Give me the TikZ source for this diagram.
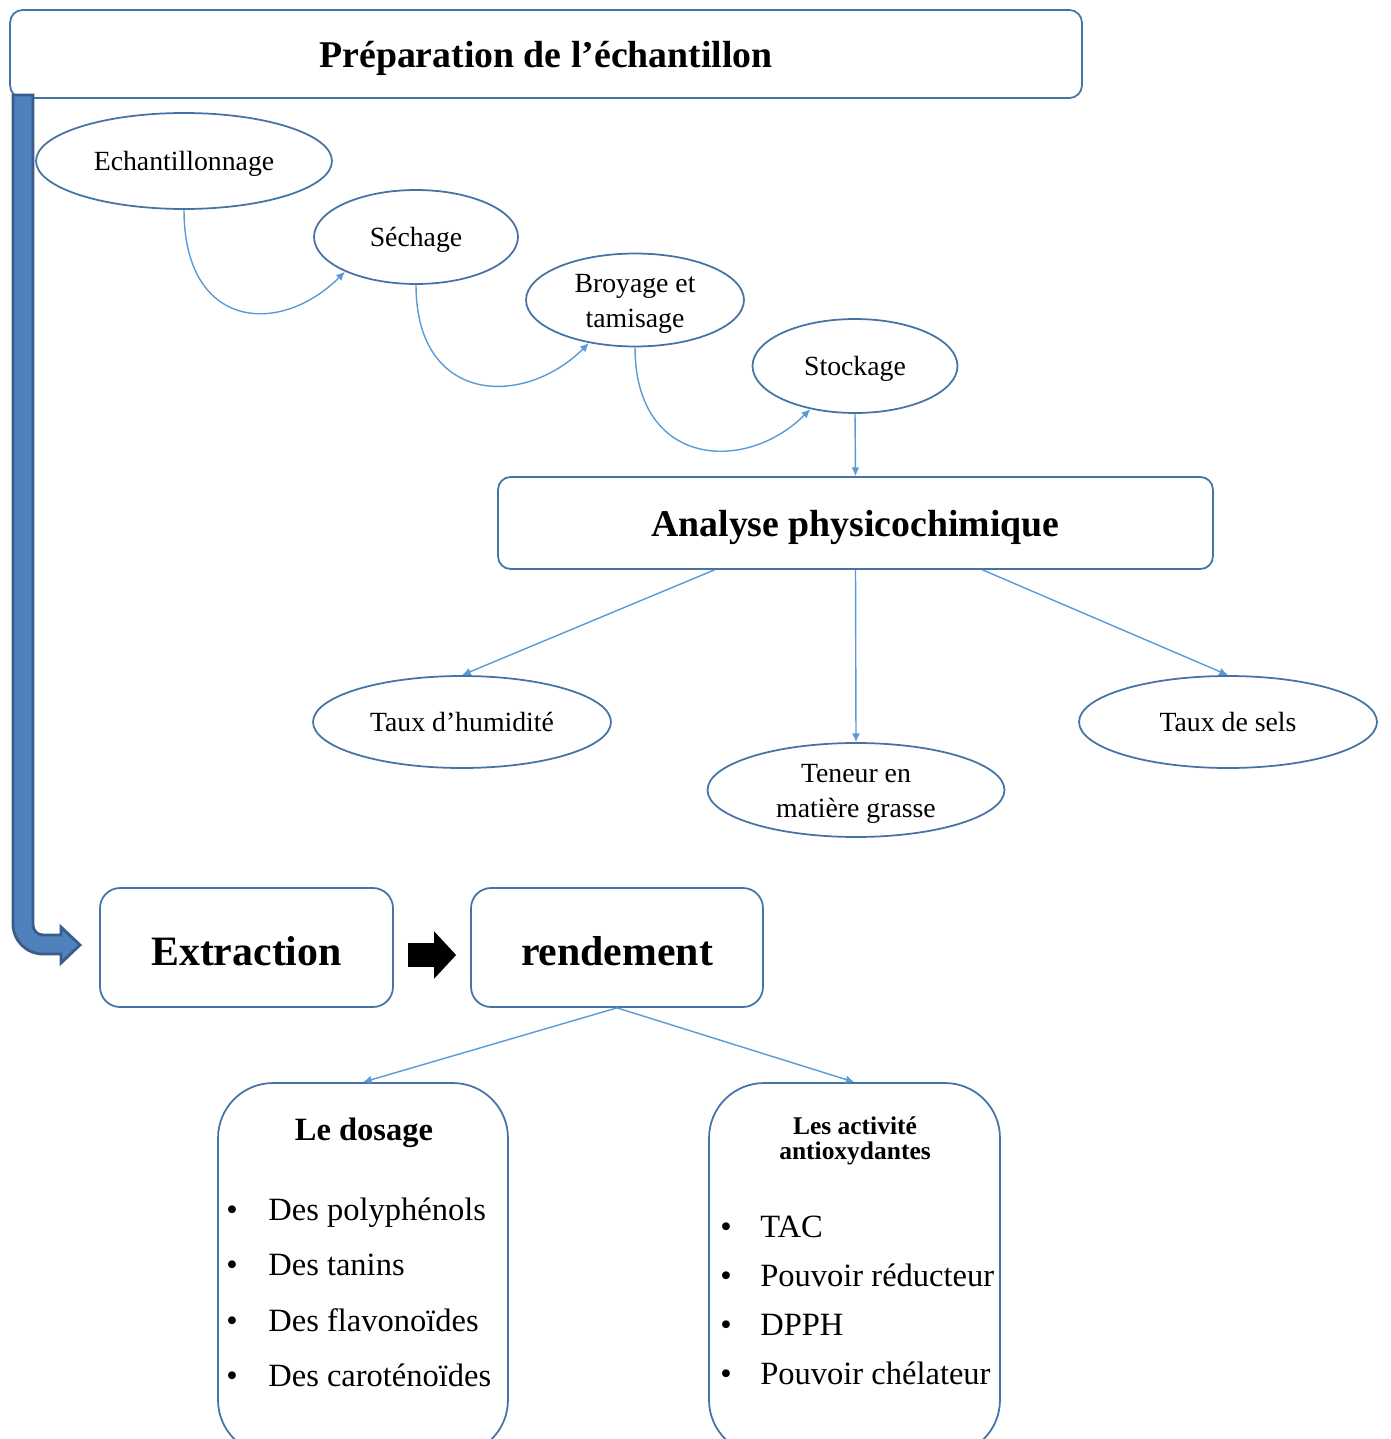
\documentclass[tikz,border=0pt]{standalone}
\usepackage{fontspec}
\setmainfont{Liberation Serif}
\usetikzlibrary{arrows.meta,positioning,calc,shapes.geometric}
\definecolor{boxline}{RGB}{70,115,165}
\definecolor{linkblue}{RGB}{91,155,213}
\definecolor{bigfill}{RGB}{79,129,189}
\definecolor{bigedge}{RGB}{56,93,138}

\begin{document}
\begin{tikzpicture}[x=0.02cm,y=-0.02cm,>={Latex[length=5pt,width=4.5pt]},
  box/.style={draw=boxline,line width=1pt,rounded corners=0.25cm,align=center,text height=19pt,text depth=4pt},
  oval/.style={ellipse,draw=boxline,line width=1pt,inner sep=0pt,align=center,font=\fontsize{15.8}{19.5}\selectfont},
  oneline/.style={text height=14pt,text depth=3.2pt},
  link/.style={->,draw=linkblue,line width=0.8pt},
  item/.style={anchor=base west,inner sep=0pt,font=\fontsize{18.5}{20}\selectfont}]
  \clip (0,0) rectangle (1390,1439);

  \node[box,minimum width=21.44cm,minimum height=1.76cm,font=\bfseries\fontsize{21.5}{24}\selectfont] (prep) at (546,54) {Préparation de l’échantillon};

  % big bent arrow down to the extraction step
  \draw[fill=bigfill,draw=bigedge,line width=1.6pt]
    (13,95) -- (13,924) to[out=-90,in=180] (43,954) -- (61,954) -- (61,963) -- (80,945) -- (61,927) -- (61,935)
    -- (43,935) to[out=180,in=-90] (33,925) -- (33,95) -- cycle;

  \node[oval,oneline,minimum width=5.92cm,minimum height=1.92cm] (ech) at (184,161) {Echantillonnage};
  \node[oval,oneline,minimum width=4.08cm,minimum height=1.88cm] (sech) at (416,237) {Séchage};
  \node[oval,minimum width=4.36cm,minimum height=1.86cm,
    label={[align=center,font=\fontsize{15.8}{19.5}\selectfont,yshift=-0.08cm]center:Broyage et\\tamisage}] (broy) at (635,300) {};
  \node[oval,oneline,minimum width=4.1cm,minimum height=1.88cm] (stock) at (855,366) {Stockage};

  \draw[link] (ech.south) .. controls +(0,120) and +(-65,65) .. (sech.206);
  \draw[link] (sech.south) .. controls +(0,120) and +(-65,65) .. (broy.223);
  \draw[link] (broy.south) .. controls +(0,120) and +(-65,65) .. (stock.224);

  \node[box,minimum width=14.3cm,minimum height=1.84cm,font=\bfseries\fontsize{21.5}{24}\selectfont] (ana) at (855.5,523) {Analyse physicochimique};
  \draw[link] (stock.south) -- (ana.north);

  \node[oval,oneline,minimum width=5.96cm,minimum height=1.84cm] (hum) at (462,722) {Taux d’humidité};
  \node[oval,minimum width=5.94cm,minimum height=1.88cm,
    label={[align=center,font=\fontsize{15.8}{19.5}\selectfont,yshift=-0.08cm]center:Teneur en\\matière grasse}] (ten) at (856,790) {};
  \node[oval,oneline,minimum width=5.96cm,minimum height=1.84cm] (sel) at (1228,722) {Taux de sels};
  \draw[link] ($(ana.south)+(-141,0)$) -- (hum.north);
  \draw[link] (ana.south) -- (ten.north);
  \draw[link] ($(ana.south)+(127,0)$) -- (sel.north);

  \node[box,rounded corners=0.4cm,text height=22pt,text depth=1.2pt,minimum width=5.86cm,minimum height=2.38cm,font=\bfseries\fontsize{23.8}{26}\selectfont] (extr) at (246.5,947.5) {Extraction};
  \node[box,rounded corners=0.4cm,text height=22pt,text depth=1.2pt,minimum width=5.84cm,minimum height=2.38cm,font=\bfseries\fontsize{23.8}{26}\selectfont] (rend) at (617,947.5) {rendement};
  \draw[line width=0.48cm,-{Triangle[length=0.44cm,width=0.92cm]}] ($(extr.east)+(14,7.5)$) -- ($(rend.west)+(-14,7.5)$);

  \node[box,rounded corners=1.1cm,minimum width=5.8cm,minimum height=7.44cm] (dos) at (363,1269) {};
  \node[box,rounded corners=1.1cm,minimum width=5.82cm,minimum height=7.44cm] (act) at (854.5,1269) {};
  \draw[link] (rend.south) -- (dos.north);
  \draw[link] (rend.south) -- (act.north);

  \node[font=\bfseries\fontsize{18.5}{20}\selectfont] (dostitle) at (364,1133) {Le dosage};
  \foreach \y/\txt [count=\i] in {1209/Des polyphénols,1264/Des tanins,1320/Des flavonoïdes,1375/Des caroténoïdes} {
    \node[item] (dosb\i) at (226,\y+11) {\textbullet};
    \node[item] (dosi\i) at (268,\y+11) {\txt};
  }

  \node[align=center,font=\bfseries\fontsize{14.5}{14}\selectfont] (acttitle) at (855,1141) {Les activité\\antioxydantes};
  \foreach \y/\txt [count=\i] in {1226/TAC,1275/Pouvoir réducteur,1324/DPPH,1373/Pouvoir chélateur} {
    \node[item] (actb\i) at (720,\y+11) {\textbullet};
    \node[item] (acti\i) at (760,\y+11) {\txt};
  }
\end{tikzpicture}
\end{document}
